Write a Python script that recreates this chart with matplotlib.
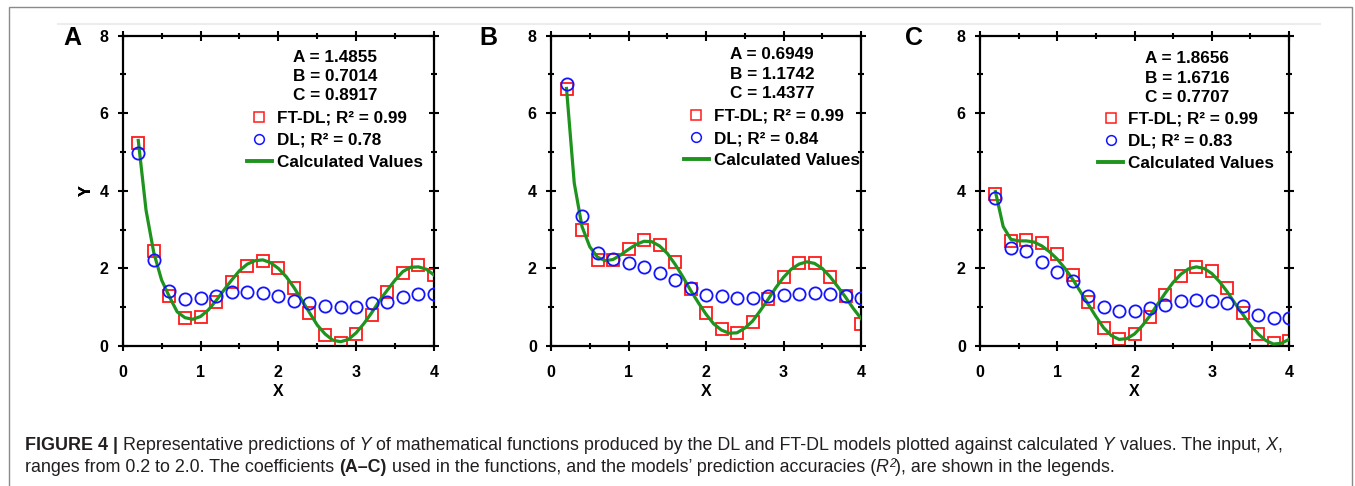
import numpy as np
import matplotlib
matplotlib.use('Agg')
import matplotlib.pyplot as plt
from matplotlib.ticker import MultipleLocator
from matplotlib.lines import Line2D
from matplotlib.patches import Rectangle

plt.rcParams['font.family'] = ['Liberation Sans', 'DejaVu Sans']

# x grid of the predictions and of the calculated curve
x_pts = np.round(np.arange(0.2, 4.01, 0.2), 1)
x_line = np.round(np.arange(0.2, 4.01, 0.1), 1)

# panel A
coef_a = ["A = 1.4855", "B = 0.7014", "C = 0.8917"]
r2_a = ["0.99", "0.78"]
ftdl_a = [5.24, 2.46, 1.30, 0.71, 0.74, 1.14, 1.66, 2.05, 2.19, 2.00,
          1.50, 0.84, 0.28, 0.07, 0.30, 0.80, 1.38, 1.87, 2.09, 1.83]
dl_a = [4.98, 2.23, 1.43, 1.20, 1.23, 1.30, 1.38, 1.40, 1.36, 1.30,
        1.17, 1.12, 1.04, 1.00, 1.01, 1.10, 1.13, 1.26, 1.34, 1.34]
calc_a = [5.30, 3.50, 2.40, 1.70, 1.27, 0.88, 0.73, 0.69, 0.76, 0.93,
          1.17, 1.44, 1.70, 1.94, 2.11, 2.20, 2.22, 2.15, 2.00, 1.79,
          1.51, 1.19, 0.86, 0.54, 0.31, 0.15, 0.11, 0.17, 0.34, 0.58,
          0.86, 1.17, 1.44, 1.70, 1.92, 2.03, 2.04, 1.98, 1.83]

# panel B
coef_b = ["A = 0.6949", "B = 1.1742", "C = 1.4377"]
r2_b = ["0.99", "0.84"]
ftdl_b = [6.62, 2.99, 2.23, 2.22, 2.50, 2.72, 2.60, 2.17, 1.46, 0.84,
          0.43, 0.34, 0.63, 1.20, 1.79, 2.15, 2.15, 1.79, 1.29, 0.57]
dl_b = [6.75, 3.36, 2.39, 2.24, 2.15, 2.04, 1.87, 1.70, 1.49, 1.31,
        1.29, 1.25, 1.25, 1.29, 1.31, 1.34, 1.36, 1.33, 1.30, 1.25]
calc_b = [6.64, 4.20, 3.08, 2.56, 2.29, 2.20, 2.23, 2.35, 2.49, 2.62,
          2.70, 2.69, 2.58, 2.39, 2.11, 1.79, 1.44, 1.12, 0.82, 0.57,
          0.41, 0.33, 0.34, 0.46, 0.64, 0.91, 1.20, 1.50, 1.77, 1.98,
          2.11, 2.17, 2.13, 2.00, 1.79, 1.53, 1.26, 0.97, 0.71]

# panel C
coef_c = ["A = 1.8656", "B = 1.6716", "C = 0.7707"]
r2_c = ["0.99", "0.83"]
ftdl_c = [3.91, 2.71, 2.72, 2.65, 2.36, 1.82, 1.13, 0.47, 0.17, 0.31,
          0.76, 1.31, 1.80, 2.03, 1.93, 1.49, 0.86, 0.31, 0.09, 0.14]
dl_c = [3.81, 2.52, 2.46, 2.17, 1.92, 1.68, 1.29, 1.00, 0.90, 0.90,
        0.99, 1.06, 1.17, 1.19, 1.16, 1.12, 1.03, 0.80, 0.73, 0.73]
calc_c = [3.98, 3.08, 2.75, 2.71, 2.71, 2.68, 2.58, 2.43, 2.24, 2.00,
          1.72, 1.40, 1.08, 0.76, 0.47, 0.27, 0.17, 0.19, 0.31, 0.52,
          0.78, 1.08, 1.37, 1.64, 1.85, 1.99, 2.04, 2.00, 1.87, 1.66,
          1.40, 1.10, 0.82, 0.54, 0.31, 0.14, 0.05, 0.07, 0.17]

panels = ["A", "B", "C"]
red = '#ff1a1a'
blue = '#1414ff'
green = '#1e941e'

W, H = 1355, 486
fig = plt.figure(figsize=(W / 100, H / 100), dpi=100)

# axes rectangles in pixels: left, right, top, bottom
boxes = [(122.7, 434, 35.7, 346), (551, 861, 35.7, 346), (980, 1289, 35.7, 346)]
coef_x = [0.682, 0.713, 0.670]
coef_y = [(57.5, 77, 96), (55, 75, 93.5), (59, 78.5, 97.5)]
leg_anchor = [(0.399, 0.759), (0.429, 0.764), (0.383, 0.755)]
letter_x = [63, 479, 905]

data = [(coef_a, r2_a, ftdl_a, dl_a, calc_a),
        (coef_b, r2_b, ftdl_b, dl_b, calc_b),
        (coef_c, r2_c, ftdl_c, dl_c, calc_c)]

fs = 12.3

for i, (coef, r2, ftdl, dl, calc) in enumerate(data):
    l, r, t, b = boxes[i]
    ax = fig.add_axes([l / W, 1 - b / H, (r - l) / W, (b - t) / H])
    ax.plot(x_pts, ftdl, ls='none', marker='s', ms=8.8, mfc='none', mec=red, mew=1.3, zorder=2)
    ax.plot(x_line, calc, color=green, lw=2.3, zorder=3)
    ax.plot(x_pts, dl, ls='none', marker='o', ms=8.8, mfc='none', mec=blue, mew=1.3, zorder=4)

    ax.set_xlim(0, 4)
    ax.set_ylim(0, 8)
    ax.xaxis.set_major_locator(MultipleLocator(1))
    ax.xaxis.set_minor_locator(MultipleLocator(0.5))
    ax.yaxis.set_major_locator(MultipleLocator(2))
    ax.yaxis.set_minor_locator(MultipleLocator(1))
    ax.tick_params(which='both', direction='inout', top=True, right=True, width=1.5)
    ax.tick_params(which='major', length=7.5, labelsize=11.5)
    ax.tick_params(axis='x', which='major', pad=10)
    ax.tick_params(axis='y', which='major', pad=6.5)
    ax.tick_params(which='minor', length=4.5)
    for lab in ax.get_xticklabels() + ax.get_yticklabels():
        lab.set_fontweight('bold')
    for sp in ax.spines.values():
        sp.set_linewidth(1.6)

    ax.set_xlabel("X", fontsize=11.5, fontweight='bold')
    ax.set_ylabel("Y", fontsize=11.5, fontweight='bold')
    ax.xaxis.set_label_coords(0.5, (b - 384) / (b - t))
    ax.yaxis.set_label_coords((94 - l) / (r - l), 0.5)

    for j, s in enumerate(coef):
        ax.text(coef_x[i], (b - coef_y[i][j]) / (b - t), s, transform=ax.transAxes,
                ha='center', va='center', fontsize=fs, fontweight='bold')

    handles = [Line2D([], [], ls='none', marker='s', ms=7, mfc='none', mec=red, mew=1.1),
               Line2D([], [], ls='none', marker='o', ms=7, mfc='none', mec=blue, mew=1.1),
               Line2D([], [], color=green, lw=2.8)]
    labels = ["FT-DL; R\u00b2 = " + r2[0], "DL; R\u00b2 = " + r2[1], "Calculated Values"]
    ax.legend(handles, labels, loc='upper left', bbox_to_anchor=leg_anchor[i],
              frameon=False, prop=dict(weight='bold', size=fs), handlelength=1.46,
              handletextpad=0.29, labelspacing=0.42, borderpad=0, borderaxespad=0)

    fig.text(letter_x[i] / W, 1 - 38 / H, panels[i], fontsize=18, fontweight='bold',
             ha='left', va='center')

# outer frame and faint top rule
fig.add_artist(Rectangle((9 / W, -0.01), (1352 - 9) / W, 1.01 - 7 / H, transform=fig.transFigure,
                         fill=False, ec='#8a8a8a', lw=1.0))
fig.add_artist(Line2D([58 / W, 1320 / W], [1 - 24 / H, 1 - 24 / H], transform=fig.transFigure,
                      color='#ececec', lw=1.5))

# caption built piece by piece
renderer = fig.canvas.get_renderer()
cap_size = 12.9


def width_of(s, **kw):
    t1 = fig.text(0, 0, "|" + s + "|", size=kw.get('size', cap_size),
                  fontweight=kw.get('fontweight', 'normal'), style=kw.get('style', 'normal'))
    t2 = fig.text(0, 0, "||", size=kw.get('size', cap_size),
                  fontweight=kw.get('fontweight', 'normal'), style=kw.get('style', 'normal'))
    w = t1.get_window_extent(renderer).width - t2.get_window_extent(renderer).width
    t1.remove()
    t2.remove()
    return w


def rich_line(x, y, pieces):
    for s, kw in pieces:
        size = kw.get('size', cap_size)
        fig.text(x / W, 1 - (y - kw.get('dy', 0)) / H, s, size=size,
                 fontweight=kw.get('fontweight', 'normal'), style=kw.get('style', 'normal'),
                 ha='left', va='baseline', color='#231f20')
        x += width_of(s, **kw)


bold = dict(fontweight='bold')
ital = dict(style='italic')
norm = dict()
line1 = [("FIGURE 4 | ", bold), ("Representative predictions of", norm), (" Y", ital),
         (" of mathematical functions produced by the DL and FT-DL models plotted against calculated", norm),
         (" Y", ital), (" values. The input, ", norm), ("X", ital), (",", norm)]
line2 = [("ranges from 0.2 to 2.0. The coefficients ", norm), ("(A\u2013C)", bold),
         (" used in the functions, and the models\u2019 prediction accuracies (", norm),
         ("R", ital), ("2", dict(size=8.5, dy=5, style='italic')), ("), are shown in the legends.", norm)]
rich_line(25, 450, line1)
rich_line(25, 471.5, line2)

fig.savefig("out.png", dpi=100, facecolor='white')
